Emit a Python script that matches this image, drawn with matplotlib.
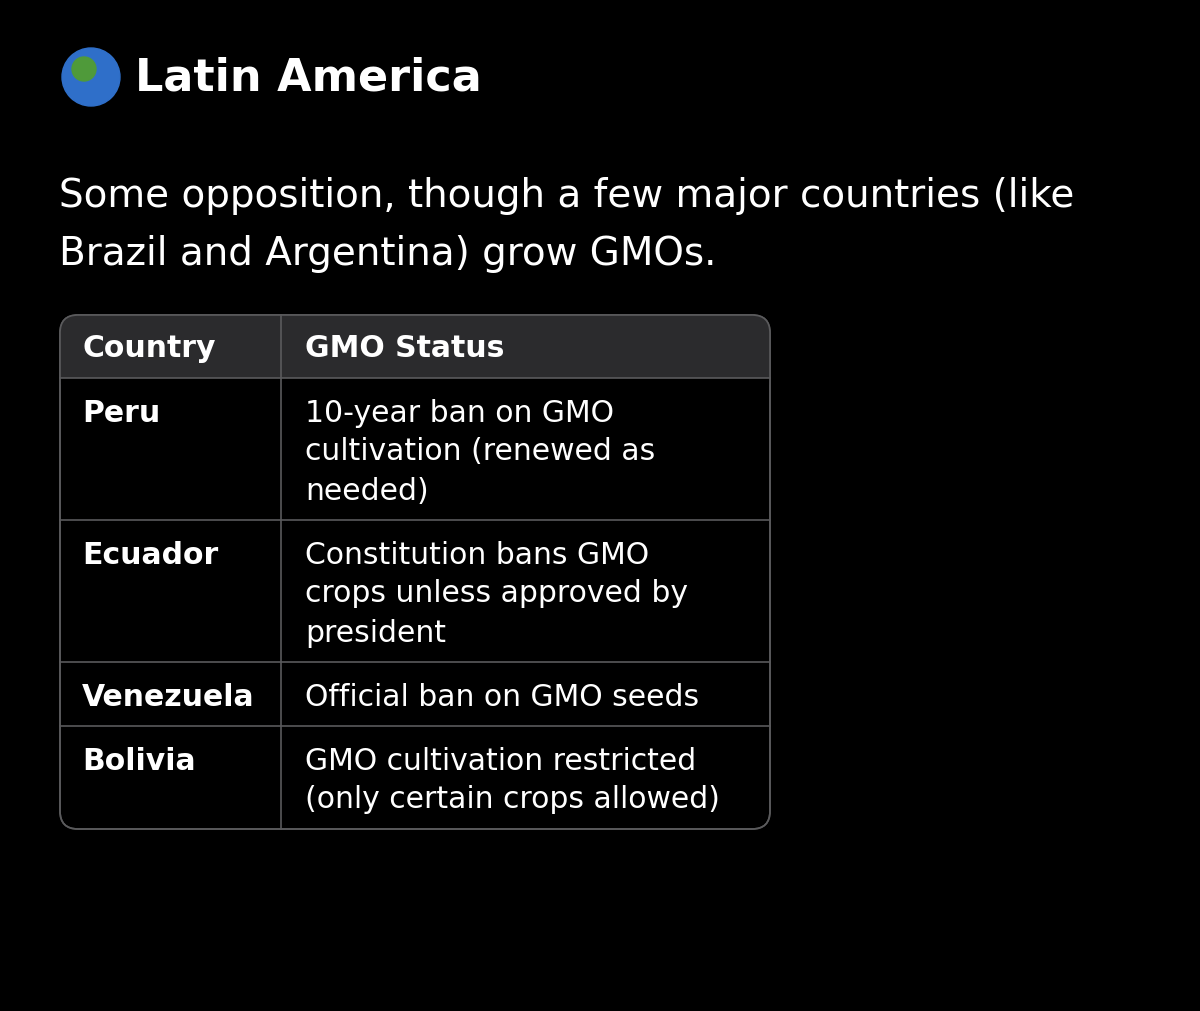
import matplotlib.pyplot as plt
from matplotlib.patches import FancyBboxPatch, Rectangle, Circle

title = "Latin America"
subtitle = ["Some opposition, though a few major countries (like",
            "Brazil and Argentina) grow GMOs."]
headers = ["Country", "GMO Status"]
countries = ["Peru", "Ecuador", "Venezuela", "Bolivia"]
statuses = [
    ["10-year ban on GMO", "cultivation (renewed as", "needed)"],
    ["Constitution bans GMO", "crops unless approved by", "president"],
    ["Official ban on GMO seeds"],
    ["GMO cultivation restricted", "(only certain crops allowed)"],
]

fig = plt.figure(figsize=(12, 10.12), dpi=100, facecolor="black")
ax = fig.add_axes([0, 0, 1, 1])
ax.set_xlim(0, 1200)
ax.set_ylim(1012, 0)
ax.axis("off")
ax.set_facecolor("black")

font = "DejaVu Sans"
# globe stand-in
ax.add_patch(Circle((91, 78), 29, color="#2f6fc9"))
ax.add_patch(Circle((84, 70), 12, color="#4f9a3a"))
ax.text(135, 78, title, color="white", fontsize=32, fontweight="bold",
        va="center", family=font)
for i, line in enumerate(subtitle):
    ax.text(59, 196 + i * 58, line, color="white", fontsize=28, va="center", family=font)

# table geometry
left, right, top, bottom = 60, 770, 316, 830
col = 281
row_lines = [379, 521, 663, 727]
border = "#5a5a5c"

ax.add_patch(FancyBboxPatch((left, top), right - left, bottom - top,
                            boxstyle="round,pad=0,rounding_size=18",
                            facecolor="black", edgecolor=border, lw=1.2))
ax.add_patch(FancyBboxPatch((left, top), right - left, 63 + 18,
                            boxstyle="round,pad=0,rounding_size=18",
                            facecolor="#2b2b2d", edgecolor="none", lw=0))
ax.add_patch(Rectangle((left + 1, 360), right - left - 2, 19, facecolor="#2b2b2d", edgecolor="none"))
ax.add_patch(Rectangle((left + 1, 379), right - left - 2, 30, facecolor="black", edgecolor="none"))
ax.add_patch(FancyBboxPatch((left, top), right - left, bottom - top,
                            boxstyle="round,pad=0,rounding_size=18",
                            facecolor="none", edgecolor=border, lw=1.2))
for y in row_lines:
    ax.plot([left, right], [y, y], color=border, lw=1.2)
ax.plot([col, col], [top, bottom], color=border, lw=1.2)

tfs = 21.5
ax.text(82, 348, headers[0], color="white", fontsize=tfs, fontweight="bold", va="center", family=font)
ax.text(305, 348, headers[1], color="white", fontsize=tfs, fontweight="bold", va="center", family=font)

for r, (c, s) in enumerate(zip(countries, statuses)):
    y0 = row_lines[r] + 34
    ax.text(82, y0, c, color="white", fontsize=tfs, fontweight="bold", va="center", family=font)
    for j, line in enumerate(s):
        ax.text(305, y0 + j * 39, line, color="white", fontsize=tfs, va="center", family=font)

fig.savefig("out.png", dpi=100, facecolor="black")
